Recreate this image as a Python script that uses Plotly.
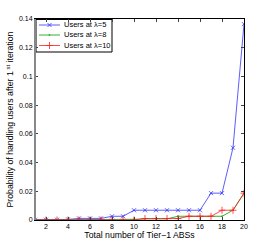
import plotly.graph_objects as go

x_abs = list(range(1, 21))
users_l5 = [0.0002, 0.0002, 0.0002, 0.0004, 0.0011, 0.0011, 0.0011, 0.0026, 0.0026, 0.0068,
            0.0068, 0.0068, 0.0068, 0.0068, 0.0068, 0.0068, 0.0187, 0.0187, 0.0503, 0.1364]
users_l8 = [0.0, 0.0, 0.0, 0.0, 0.0, 0.0, 0.0, 0.0, 0.0, 0.0005,
            0.0008, 0.0008, 0.0008, 0.0026, 0.0026, 0.0026, 0.0026, 0.0026, 0.0068, 0.0187]
users_l10 = [0.0, 0.0, 0.0, 0.0, 0.0, 0.0, 0.0, 0.0, 0.0, 0.0,
             0.001, 0.001, 0.001, 0.001, 0.0026, 0.0026, 0.0026, 0.0068, 0.0068, 0.0187]
series_names = ["Users at λ=5", "Users at λ=8", "Users at λ=10"]
x_ticks = [2, 4, 6, 8, 10, 12, 14, 16, 18, 20]
y_ticks = [0, 0.02, 0.04, 0.06, 0.08, 0.1, 0.12, 0.14]
y_labels = ["0", "0.02", "0.04", "0.06", "0.08", "0.1", "0.12", "0.14"]

font = "Liberation Sans, Arial, sans-serif"
W, H = 269, 248
L, R, T, B = 35, 25, 19, 28
PW, PH = W - L - R, H - T - B


def px(xp):
    return (xp - L) / PW


def py(yp):
    return (H - B - yp) / PH


styles = [
    dict(color="#3333ff", marker=dict(symbol="x-thin", size=4, color="#3333ff",
                                      line=dict(color="#3333ff", width=0.8))),
    dict(color="#00a000", marker=dict(symbol="circle", size=1.6, color="#00a000",
                                      line=dict(width=0))),
    dict(color="#ff2020", marker=dict(symbol="cross-thin", size=5, color="#ff2020",
                                      line=dict(color="#ff2020", width=0.8))),
]

fig = go.Figure()
for vals, name, st in zip([users_l5, users_l8, users_l10], series_names, styles):
    fig.add_trace(go.Scatter(x=x_abs, y=vals, mode="lines+markers", name=name,
                             line=dict(color=st["color"], width=0.8), marker=st["marker"],
                             showlegend=False))

# Custom compact legend (pixel positions converted to paper fractions)
box_x0, box_x1, box_y0, box_y1 = 36, 112, 19.5, 52
row_y = [25, 35, 45.5]
fig.add_shape(type="rect", xref="paper", yref="paper",
              x0=px(box_x0), x1=px(box_x1), y0=py(box_y1), y1=py(box_y0),
              line=dict(color="black", width=1), fillcolor="white", layer="below")
for ry, name, st in zip(row_y, series_names, styles):
    fig.add_trace(go.Scatter(x=[px(39), px(60)], y=[py(ry), py(ry)], mode="lines",
                             xaxis="x2", yaxis="y2",
                             line=dict(color=st["color"], width=0.8), showlegend=False,
                             hoverinfo="skip"))
    fig.add_trace(go.Scatter(x=[px(49.5)], y=[py(ry)], mode="markers", xaxis="x2", yaxis="y2",
                             marker=st["marker"], showlegend=False, hoverinfo="skip"))
    fig.add_annotation(x=px(63), y=py(ry), xref="paper", yref="paper", text=name,
                       showarrow=False, xanchor="left", yanchor="middle",
                       borderpad=0, font=dict(size=7.5, family=font))

# gray left spine as in reference
fig.add_shape(type="line", xref="paper", yref="paper", x0=0, x1=0, y0=0, y1=1,
              line=dict(color="#888888", width=2), layer="above")

fig.update_layout(
    width=W, height=H,
    margin=dict(l=L, r=R, t=T, b=B, autoexpand=False),
    paper_bgcolor="white", plot_bgcolor="white",
    font=dict(family=font, size=7, color="black"),
    showlegend=False,
    xaxis=dict(range=[1, 20], tickvals=x_ticks, ticks="inside", ticklen=3,
               showline=True, linecolor="black", linewidth=1, mirror="ticks",
               showgrid=False, zeroline=False, automargin=False,
               title=dict(text="Total number of Tier−1 ABSs", font=dict(size=8.7), standoff=1)),
    yaxis=dict(range=[0, 0.14], tickvals=y_ticks, ticktext=y_labels, ticks="inside", ticklen=3,
               showline=True, linecolor="black", linewidth=1, mirror="ticks",
               showgrid=False, zeroline=False, automargin=False,
               title=dict(text="Probability of handling users after 1<sup> st</sup> iteration",
                          font=dict(size=8.7), standoff=3)),
    xaxis2=dict(range=[0, 1], overlaying="x", anchor="y2", visible=False, fixedrange=True),
    yaxis2=dict(range=[0, 1], overlaying="y", anchor="x2", visible=False, fixedrange=True),
)
fig.write_html("out.html", config={"displayModeBar": False},
               post_script="document.body.style.margin='0';document.body.style.overflow='hidden';")
